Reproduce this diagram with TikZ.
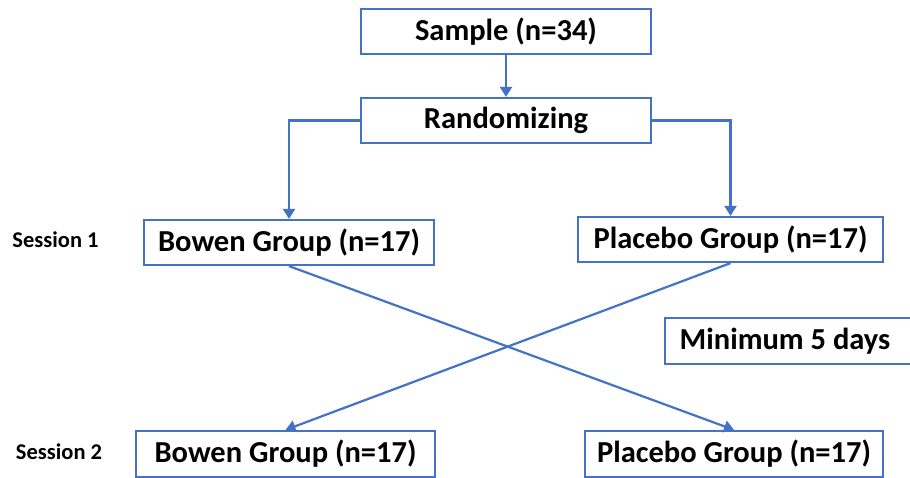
\documentclass[tikz,border=0pt]{standalone}
\usepackage{fontspec}
\setmainfont{Carlito}
\usetikzlibrary{arrows.meta}
\definecolor{lineblue}{HTML}{4472C4}
\begin{document}
\begin{tikzpicture}[x=1pt,y=-1pt,
  box/.style={draw=lineblue,line width=2.2pt,fill=white,inner sep=0pt,minimum height=45pt,font=\fontsize{30.5}{34}\selectfont\bfseries},
  lbl/.style={inner sep=0pt,font=\fontsize{22.5}{26}\selectfont\bfseries},
  conn/.style={draw=lineblue,line width=2.2pt},
  arr/.style={conn,-{Triangle[length=10pt,width=12pt]}}]
\useasboundingbox[fill=white] (0,0) rectangle (910,477);
\node[box,minimum width=290pt] (sample) at (506,31.5) {Sample (n=34)};
\node[box,minimum width=290pt] (rand) at (506,120.5) {Randomizing};
\node[box,minimum width=290pt] (bowen1) at (289,242.5) {Bowen Group (n=17)};
\node[box,minimum width=305pt] (placebo1) at (730.5,239.5) {Placebo Group (n=17)};
\node[box,minimum width=250pt,minimum height=46pt] (mindays) at (790,341) {\hspace*{-5pt}Minimum 5 days\hspace*{5pt}};
\node[box,minimum width=299pt,minimum height=46pt] (bowen2) at (285.5,454) {Bowen Group (n=17)};
\node[box,minimum width=298pt,minimum height=46pt] (placebo2) at (734,454) {Placebo Group (n=17)};
\node[lbl] (s1) at (55.5,240) {Session 1};
\node[lbl] (s2) at (59,452) {Session 2};
\draw[arr] (sample.south) -- (rand.north);
\draw[arr] (rand.west) -| (bowen1.north);
\draw[arr] (rand.east) -| (placebo1.north);
\draw[arr] (bowen1.south) -- (placebo2.north);
\draw[arr] (placebo1.south) -- (bowen2.north);
\end{tikzpicture}
\end{document}
